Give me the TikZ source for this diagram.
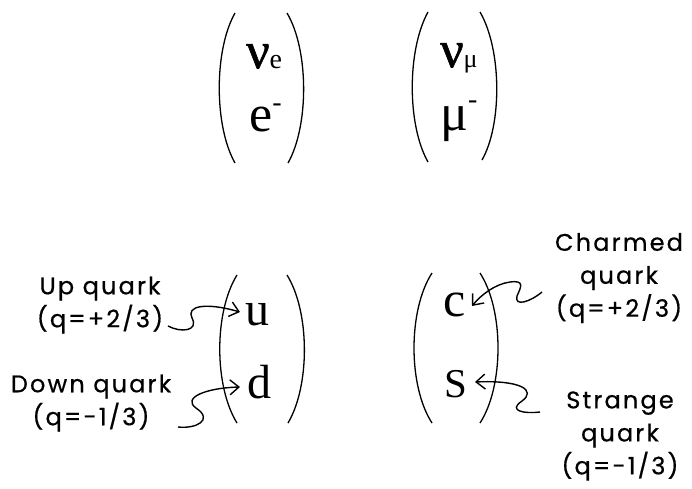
\documentclass[tikz,border=0pt]{standalone}
\usepackage{fontspec}
\usetikzlibrary{arrows.meta,calc}
\setmainfont{Liberation Serif}
\newfontfamily\nufont[FakeBold=1.2]{Liberation Serif}
\newfontfamily\handfont[LetterSpace=9,FakeBold=0.6]{Poppins}
\begin{document}
\begin{tikzpicture}[x=1pt,y=-1pt,
  paren/.style={line width=1.3pt},
  sym/.style={inner sep=0pt, anchor=base west, font=\fontsize{52}{52}\selectfont},
  lbl/.style={inner sep=0pt, align=center, font=\handfont\fontsize{24}{33}\selectfont},
  pointer/.style={line width=1.4pt, -{Straight Barb[length=9pt,width=15pt]}}]
\useasboundingbox (0,0) rectangle (692,488);
% --- leptons ---
\draw[paren] (235,13) .. controls (214,50) and (214,126) .. (235,163);
\draw[paren] (287,13) .. controls (309,50) and (309,126) .. (288,163);
\draw[paren] (428,12) .. controls (407,50) and (407,125) .. (428,162);
\draw[paren] (480,12) .. controls (502,50) and (502,125) .. (482,160);
\node[sym] (nue) at (246,68) {{\nufont ν}\fontsize{28}{28}\selectfont e};
\node[sym] (em) at (249,131) {e\raisebox{20pt}{\fontsize{28}{28}\selectfont -}};
\node[sym] (numu) at (440,67) {{\nufont ν}\fontsize{26}{26}\selectfont μ};
\node[sym] (mum) at (440,130) {μ\raisebox{22pt}{\fontsize{28}{28}\selectfont -}};
% --- quarks ---
\draw[paren] (237,275) .. controls (214,312) and (214,386) .. (237,423);
\draw[paren] (287,275) .. controls (310,312) and (310,386) .. (288,423);
\draw[paren] (432,273) .. controls (408,310) and (408,386) .. (432,423);
\draw[paren] (480,273) .. controls (504,310) and (504,386) .. (480,423);
\node[sym, font=\fontsize{48}{48}\selectfont] (u) at (245,325) {u};
\node[sym, font=\fontsize{48}{48}\selectfont] (d) at (247,398) {d};
\node[sym, font=\fontsize{50}{50}\selectfont] (c) at (443,316) {c};
\node[sym, font=\fontsize{41}{41}\selectfont] (s) at (444,397) {S};
% --- labels ---
\node[lbl] (uplbl) at (100,305) {Up quark\\(q=+2/3)};
\node[lbl] (downlbl) at (91,403) {Down quark\\(q=-1/3)};
\node[lbl] (clbl) at (619,278) {Charmed\\quark\\(q=+2/3)};
\node[lbl] (slbl) at (620,436) {Strange\\quark\\(q=-1/3)};
% --- arrows ---
\coordinate (ut) at (168,326);
\coordinate (dt) at (178,427);
\coordinate (ct) at (542,292);
\coordinate (st) at (540,412);
\draw[pointer] (ut) .. controls (181,333) and (199,331) .. (192,318)
  .. controls (186,306) and (205,302) .. ($(u.base west)+(-5,-13)$);
\draw[pointer] (dt) .. controls (196,429) and (214,420) .. (196,408)
  .. controls (182,398) and (205,388) .. ($(d.base west)+(-7,-11)$);
\draw[pointer] (ct) .. controls (530,302) and (514,307) .. (517,296)
  .. controls (521,287) and (525,280) .. (510,282)
  .. controls (495,284) and (481,295) .. ($(c.base west)+(29,-10)$);
\draw[pointer] (st) .. controls (525,414) and (507,411) .. (522,401)
  .. controls (537,390) and (520,380) .. ($(s.base west)+(31,-15)$);
\end{tikzpicture}
\end{document}
